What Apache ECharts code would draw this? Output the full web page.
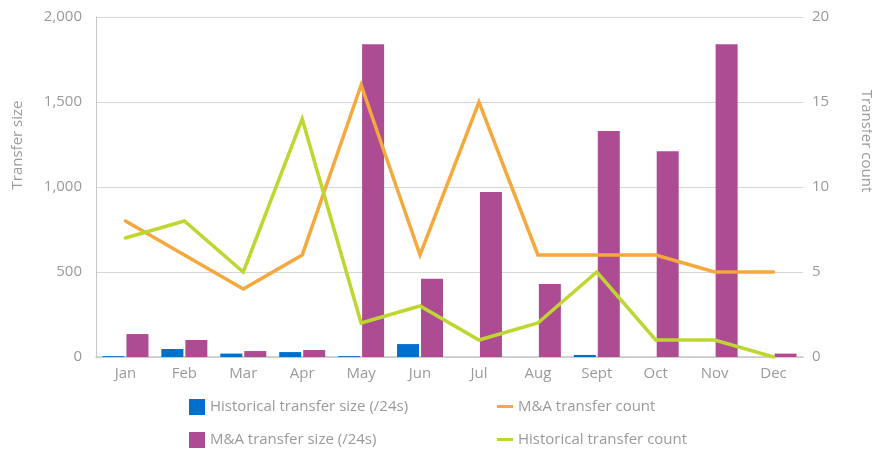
<!DOCTYPE html>
<html>
<head>
<meta charset="utf-8">
<script src="https://cdn.jsdelivr.net/npm/echarts@6/dist/echarts.min.js"></script>
<style>
  html, body { margin: 0; padding: 0; background: #fff; }
  #chart { width: 872px; height: 452px; }
</style>
</head>
<body>
<div id="chart"></div>
<script>
var months = ['Jan', 'Feb', 'Mar', 'Apr', 'May', 'Jun', 'Jul', 'Aug', 'Sept', 'Oct', 'Nov', 'Dec'];
var histSize = [5, 47, 20, 29, 5, 76, 0, 0, 12, 0, 0, 0];
var maSize = [135, 100, 35, 41, 1840, 460, 970, 430, 1330, 1210, 1840, 20];
var maCount = [8, 6, 4, 6, 16, 6, 15, 6, 6, 6, 5, 5];
var histCount = [7, 8, 5, 14, 2, 3, 1, 2, 5, 1, 1, 0];

var grey = '#9a9a9a';
var font = 'Open Sans';
var lineIcon = 'path://M0,0H16V3H0Z';

// one legend per item so each sits where the reference puts it
function legendAt(name, icon, left, top) {
    return {
        left: left, top: top,
        itemWidth: 16, itemHeight: 16,
        textStyle: { color: grey, fontSize: 15, fontFamily: font },
        data: [{ name: name, icon: icon }]
    };
}

var myChart = echarts.init(document.getElementById('chart'));
var option = {
    animation: false,
    textStyle: { fontFamily: font },
    grid: { left: 96, right: 69, top: 17, bottom: 95 },
    legend: [
        legendAt('Historical transfer size (/24s)', 'rect', 184, 394),
        legendAt('M&A transfer size (/24s)', 'rect', 184, 427),
        legendAt('M&A transfer count', lineIcon, 492, 394),
        legendAt('Historical transfer count', lineIcon, 492, 427)
    ],
    graphic: [
        {
            type: 'text', x: 18, y: 145, rotation: Math.PI / 2,
            style: { text: 'Transfer size', fill: grey, fontSize: 15, fontFamily: font, align: 'center', verticalAlign: 'middle' }
        },
        {
            type: 'text', x: 866, y: 141, rotation: -Math.PI / 2,
            style: { text: 'Transfer count', fill: grey, fontSize: 15, fontFamily: font, align: 'center', verticalAlign: 'middle' }
        }
    ],
    xAxis: {
        type: 'category',
        data: months,
        axisLine: { lineStyle: { color: '#c8c8c8', width: 1.5 } },
        axisTick: { show: false },
        axisLabel: { color: grey, fontSize: 15, margin: 9 }
    },
    yAxis: [
        {
            type: 'value',
            min: 0, max: 2000, interval: 500,
            axisLine: { show: true, lineStyle: { color: '#c8c8c8', width: 1 } },
            axisTick: { show: false },
            splitLine: { lineStyle: { color: '#d6d6d6', width: 1 } },
            axisLabel: { color: grey, fontSize: 15, margin: 14 }
        },
        {
            type: 'value',
            min: 0, max: 20, interval: 5,
            axisLine: { show: false },
            axisTick: { show: false },
            splitLine: { show: false },
            axisLabel: { color: grey, fontSize: 15, margin: 9 }
        }
    ],
    series: [
        {
            name: 'Historical transfer size (/24s)',
            type: 'bar',
            data: histSize,
            barWidth: 22,
            barGap: '9%',
            itemStyle: { color: '#0070cc' }
        },
        {
            name: 'M&A transfer size (/24s)',
            type: 'bar',
            data: maSize,
            barWidth: 22,
            itemStyle: { color: '#ad4c92' }
        },
        {
            name: 'M&A transfer count',
            type: 'line',
            yAxisIndex: 1,
            data: maCount,
            showSymbol: false,
            symbol: 'none',
            lineStyle: { color: '#f5a83b', width: 3.5, cap: 'round', join: 'miter' },
            itemStyle: { color: '#f5a83b' }
        },
        {
            name: 'Historical transfer count',
            type: 'line',
            yAxisIndex: 1,
            data: histCount,
            showSymbol: false,
            symbol: 'none',
            lineStyle: { color: '#bfd630', width: 3.5, cap: 'round', join: 'miter' },
            itemStyle: { color: '#bfd630' }
        }
    ]
};
myChart.setOption(option);
</script>
</body>
</html>
